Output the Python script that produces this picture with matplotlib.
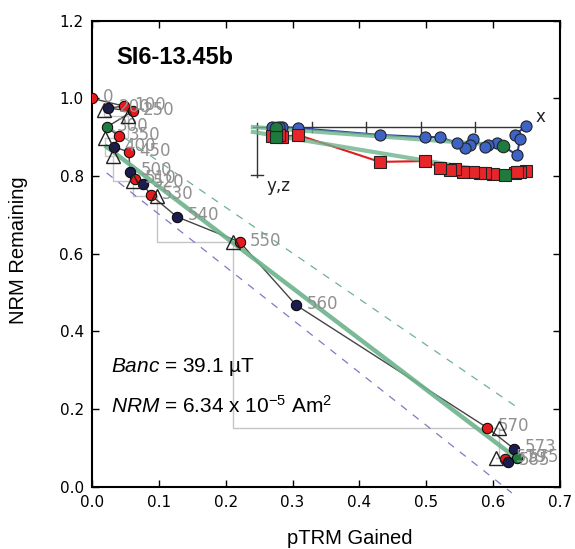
import matplotlib.pyplot as plt
import numpy as np

# Arai plot data (pTRM gained vs NRM remaining)
temps = ['0', '100', '200', '250', '300', '350', '400', '450', '500', '510',
         '520', '530', '540', '550', '560', '570', '573', '575', '579', '585']
ptrm = [0.000, 0.048, 0.024, 0.061, 0.022, 0.040, 0.033, 0.055, 0.057, 0.064,
        0.076, 0.088, 0.127, 0.221, 0.305, 0.591, 0.631, 0.636, 0.618, 0.622]
nrm = [1.000, 0.980, 0.975, 0.967, 0.926, 0.903, 0.875, 0.862, 0.811, 0.792,
       0.780, 0.751, 0.695, 0.630, 0.468, 0.152, 0.098, 0.074, 0.072, 0.064]
step_kind = ['zi', 'zi', 'iz', 'zi', 'end', 'zi', 'iz', 'zi', 'iz', 'zi',
             'iz', 'zi', 'iz', 'zi', 'iz', 'zi', 'iz', 'end', 'zi', 'iz']

# pTRM checks
check_x = [0.018, 0.054, 0.019, 0.031, 0.061, 0.097, 0.211, 0.609, 0.604]
check_y = [0.970, 0.955, 0.898, 0.852, 0.787, 0.749, 0.630, 0.152, 0.074]

# best fit and bounds
fit_x = [0.022, 0.636]
fit_y = [0.875, 0.072]
upper_x = [0.031, 0.633]
upper_y = [0.919, 0.208]
lower_x = [0.022, 0.628]
lower_y = [0.808, -0.016]

# Zijderveld inset (x horizontal, y / z downwards)
zij_x = [0.987, 0.947, 0.965, 0.954, 0.903, 0.881, 0.848, 0.837, 0.793, 0.782,
         0.763, 0.734, 0.672, 0.617, 0.451, 0.150, 0.092, 0.070, 0.081, 0.055]
zij_y = [0.004, -0.029, -0.044, -0.103, -0.070, -0.059, -0.066, -0.073, -0.044, -0.066,
         -0.077, -0.059, -0.037, -0.037, -0.029, -0.004, 0.000, -0.004, 0.000, 0.000]
zij_xz = [0.987, 0.947, 0.965, 0.954, 0.910, 0.866, 0.837, 0.818, 0.793, 0.756,
          0.727, 0.708, 0.672, 0.617, 0.451, 0.150, 0.092, 0.070, 0.081, 0.055]
zij_z = [-0.161, -0.169, -0.165, -0.165, -0.176, -0.172, -0.169, -0.169, -0.165, -0.165,
         -0.154, -0.158, -0.150, -0.125, -0.128, -0.029, -0.037, -0.037, -0.029, -0.033]
zij_fit_xy = ([-0.015, 0.903], [0.0, -0.068])
zij_fit_xz = ([-0.015, 0.910], [-0.018, -0.172])
zij_ticks = [0.2, 0.4, 0.6, 0.8]

banc = 39.1
nrm_moment = '6.34'

plt.rcParams['mathtext.fontset'] = 'custom'
plt.rcParams['mathtext.rm'] = 'Liberation Sans'
plt.rcParams['mathtext.it'] = 'Liberation Sans:italic'

colors = {'zi': '#e41a1c', 'iz': '#1c1c4e', 'end': '#1e7a3e'}
fit_green = '#6db38c'

fig = plt.figure(figsize=(5.75, 5.49), dpi=100)
ax = fig.add_axes([92 / 575, 1 - 486.7 / 549, 468 / 575, 466 / 549])

ax.plot(ptrm, nrm, color='#444444', lw=1, zorder=2)
for i in range(1, len(check_x)):
    ax.plot([check_x[i - 1], check_x[i - 1], check_x[i]],
            [check_y[i - 1], check_y[i], check_y[i]], color='#c4c4c4', lw=1, zorder=1)
ax.plot(fit_x, fit_y, color=fit_green, lw=3.2, alpha=0.9, zorder=3)
ax.plot(upper_x, upper_y, color=fit_green, lw=0.9, ls=(0, (6, 6)), zorder=1)
ax.plot(lower_x, lower_y, color='#7b7bc4', lw=0.9, ls=(0, (6, 6)), zorder=1, clip_on=False)

for x, y, k, t in zip(ptrm, nrm, step_kind, temps):
    ax.plot(x, y, 'o', ms=7.5, mfc=colors[k], mec='black', mew=0.7, zorder=4)
    ax.annotate(t, (x, y), xytext=(7.5, 1), textcoords='offset points',
                color='#909090', fontsize=12, va='center', zorder=5)
ax.plot(check_x, check_y, '^', ms=10.5, mfc='none', mec='#222222', mew=1, zorder=5)

ax.text(0.036, 1.088, 'SI6-13.45b', fontsize=17, fontweight='bold',
        family='Liberation Sans', va='baseline')
ax.text(0.028, 0.295, r'$Banc$ = %.1f µT' % banc, fontsize=15,
        family='Liberation Sans', va='baseline')
ax.text(0.028, 0.19, r'$NRM$ = %s x 10$^{-5}$ Am$^{2}$' % nrm_moment, fontsize=15,
        family='Liberation Sans', va='baseline')

ax.set_xlim(0, 0.7)
ax.set_ylim(0, 1.2)
ax.set_xticks(np.arange(0, 0.71, 0.1))
ax.set_yticks(np.arange(0, 1.21, 0.2))
ax.tick_params(direction='in', top=True, right=True, length=5, width=1,
               labelsize=11, pad=6)
for s in ax.spines.values():
    s.set_linewidth(1.5)

fig.text(350 / 575, 1 - 544 / 549, 'pTRM Gained', fontsize=14.5,
         family='Liberation Sans', ha='center', va='baseline')
fig.text(19 / 575, 1 - 250 / 549, 'NRM Remaining', fontsize=14.5,
         family='Liberation Sans', ha='center', va='center', rotation=90)

# inset zijderveld
u0, sc = 257, 272.5
ax2 = fig.add_axes([245 / 575, 1 - 200 / 549, 305 / 575, 90 / 549])
ax2.set_xlim((245 - u0) / sc, (550 - u0) / sc)
ax2.set_ylim(-(200 - 127) / sc, (127 - 110) / sc)
ax2.axis('off')

ax2.plot([-0.015, 0.99], [0, 0], color='#333333', lw=1)
ax2.plot([0, 0], [0.015, -0.185], color='#333333', lw=1)
for t in zij_ticks:
    ax2.plot([t, t], [-0.018, 0.018], color='#333333', lw=1)
ax2.plot([-0.022, 0.022], [-0.176, -0.176], color='#333333', lw=1)
ax2.text(1.042, 0.037, 'x', fontsize=12, ha='center', va='center', color='#222222')
ax2.text(0.077, -0.217, 'y,z', fontsize=12, ha='center', va='center', color='#222222')

ax2.plot(*zij_fit_xy, color=fit_green, lw=3, alpha=0.8, zorder=3)
ax2.plot(*zij_fit_xz, color=fit_green, lw=3, alpha=0.8, zorder=3)
ax2.plot(zij_x, zij_y, color='#27409a', lw=1.5, zorder=2)
ax2.plot(zij_xz, zij_z, color='#e41a1c', lw=1.5, zorder=2)
for k in range(len(zij_x)):
    end = step_kind[k] == 'end'
    ax2.plot(zij_x[k], zij_y[k], 'o', ms=9 if end else 8,
             mfc='#1e7a3e' if end else '#3d63c4', mec='#222222', mew=0.8,
             zorder=5 if end else 4)
    ax2.plot(zij_xz[k], zij_z[k], 's', ms=9 if end else 8,
             mfc='#1e7a3e' if end else '#e8262a', mec='#222222', mew=0.8,
             zorder=5 if end else 4)

plt.savefig('out.png', dpi=100)
